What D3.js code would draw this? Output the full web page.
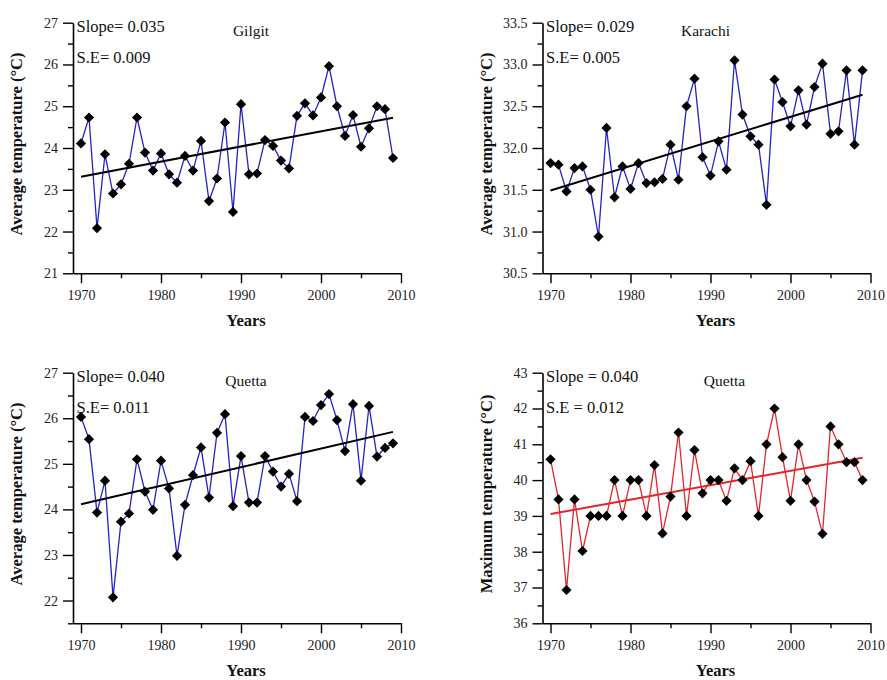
<!DOCTYPE html>
<html>
<head>
<meta charset="utf-8">
<script src="https://cdn.jsdelivr.net/npm/d3@7"></script>
<style>
  body { margin: 0; background: #fff; }
  svg { display: block; font-family: "Liberation Serif", "Times New Roman", serif; }
</style>
</head>
<body>
<svg id="chart" width="887" height="680"></svg>
<script>
var years = d3.range(1970, 2010);

var gilgitAvg = [24.11, 24.73, 22.08, 23.85, 22.91, 23.13, 23.62, 24.73, 23.89, 23.46,
                 23.87, 23.37, 23.17, 23.81, 23.46, 24.17, 22.73, 23.27, 24.61, 22.47,
                 25.05, 23.37, 23.39, 24.19, 24.05, 23.70, 23.51, 24.77, 25.07, 24.78,
                 25.21, 25.96, 25.00, 24.29, 24.79, 24.03, 24.47, 25.00, 24.93, 23.76];

var karachiAvg = [31.82, 31.80, 31.48, 31.76, 31.78, 31.50, 30.94, 32.24, 31.41, 31.78,
                  31.51, 31.82, 31.58, 31.59, 31.63, 32.04, 31.62, 32.50, 32.83, 31.89,
                  31.67, 32.08, 31.74, 33.05, 32.40, 32.14, 32.04, 31.32, 32.82, 32.55,
                  32.26, 32.69, 32.28, 32.73, 33.01, 32.17, 32.20, 32.93, 32.04, 32.93];

var quettaAvg = [26.03, 25.54, 23.93, 24.63, 22.07, 23.73, 23.91, 25.10, 24.39, 23.99,
                 25.07, 24.46, 22.98, 24.10, 24.75, 25.36, 24.26, 25.68, 26.09, 24.07,
                 25.17, 24.15, 24.15, 25.17, 24.83, 24.50, 24.78, 24.18, 26.03, 25.94,
                 26.29, 26.53, 25.96, 25.28, 26.31, 24.63, 26.27, 25.16, 25.35, 25.45];

var quettaMax = [40.58, 39.46, 36.93, 39.46, 38.02, 39.00, 39.00, 39.00, 40.00, 39.00,
                 40.00, 40.00, 39.00, 40.42, 38.51, 39.54, 41.33, 39.00, 40.84, 39.63,
                 40.00, 40.00, 39.42, 40.33, 40.00, 40.53, 39.00, 41.00, 42.00, 40.64,
                 39.42, 41.00, 40.00, 39.40, 38.50, 41.50, 41.00, 40.50, 40.50, 40.00];

var stations = ["Gilgit", "Karachi", "Quetta", "Quetta"];
var slopeLabels = ["Slope= 0.035", "Slope= 0.029", "Slope= 0.040", "Slope = 0.040"];
var seLabels = ["S.E= 0.009", "S.E= 0.005", "S.E= 0.011", "S.E = 0.012"];
var yTitles = ["Average temperature (\u00B0C)", "Average temperature (\u00B0C)",
               "Average temperature (\u00B0C)", "Maximum temperature (\u00B0C)"];
var yDomains = [[21, 27], [30.5, 33.5], [21.5, 27], [36, 43]];
var yMajorSteps = [1, 0.5, 1, 1];
var xTicks = [1970, 1980, 1990, 2000, 2010];
var xMinorTicks = [1975, 1985, 1995, 2005];

var series = [gilgitAvg, karachiAvg, quettaAvg, quettaMax];

// layout of the four panels
var panelW = 328, panelH = 250.6;
var layout = [
  {left: 73, top: 22.7, titleX: 178, line: "#2323c8", trend: "#000"},
  {left: 542.5, top: 22.7, titleX: 163, line: "#2323c8", trend: "#000"},
  {left: 73, top: 372.7, titleX: 173, line: "#2323c8", trend: "#000"},
  {left: 542.5, top: 372.7, titleX: 182, line: "#e3262b", trend: "#e3262b"}
];

var svg = d3.select("#chart");
svg.append("rect").attr("width", 887).attr("height", 680).attr("fill", "#fff");

function linearFit(xs, ys) {
  var mx = d3.mean(xs), my = d3.mean(ys);
  var num = d3.sum(xs, function(x, i) { return (x - mx) * (ys[i] - my); });
  var den = d3.sum(xs, function(x) { return (x - mx) * (x - mx); });
  var b = num / den;
  return {a: my - b * mx, b: b};
}

series.forEach(function(values, i) {
  var L = layout[i];
  var g = svg.append("g").attr("transform", "translate(" + L.left + "," + L.top + ")");

  var x = d3.scaleLinear().domain([1969, 2010]).range([0, panelW]);
  var y = d3.scaleLinear().domain(yDomains[i]).range([panelH, 0]);

  var step = yMajorSteps[i];
  var d0 = yDomains[i][0], d1 = yDomains[i][1];
  var major = d3.range(Math.round(d0 / step) , Math.round(d1 / step) + 1)
      .map(function(k) { return k * step; })
      .filter(function(v) { return v >= d0 - 1e-9 && v <= d1 + 1e-9; });
  var minor = d3.range(Math.round(d0 / (step / 2)), Math.round(d1 / (step / 2)) + 1)
      .map(function(k) { return k * step / 2; })
      .filter(function(v) { return !major.some(function(m) { return Math.abs(m - v) < 1e-9; }); });

  var fmt = step < 1 ? d3.format(".1f") : d3.format("d");

  // y axis
  var yAxis = g.append("g").call(d3.axisLeft(y).tickValues(major).tickFormat(fmt)
      .tickSize(10).tickPadding(5).tickSizeOuter(0));
  yAxis.append("g").call(d3.axisLeft(y).tickValues(minor).tickFormat("").tickSize(5).tickSizeOuter(0))
      .select(".domain").remove();

  // x axis
  var xAxis = g.append("g").attr("transform", "translate(0," + panelH + ")")
      .call(d3.axisBottom(x).tickValues(xTicks).tickFormat(d3.format("d"))
        .tickSize(10).tickPadding(7).tickSizeOuter(0));
  xAxis.append("g").call(d3.axisBottom(x).tickValues(xMinorTicks).tickFormat("").tickSize(5).tickSizeOuter(0))
      .select(".domain").remove();

  g.selectAll(".domain").attr("stroke", "#000").attr("stroke-width", 1.6);
  g.selectAll(".tick line").attr("stroke", "#000").attr("stroke-width", 1.4);
  g.selectAll(".tick text").attr("font-family", "Liberation Serif").attr("font-size", 14).attr("fill", "#222");

  // series line
  var line = d3.line()
      .x(function(d, j) { return x(years[j]); })
      .y(function(d) { return y(d); });
  g.append("path").datum(values)
      .attr("fill", "none").attr("stroke", L.line).attr("stroke-width", 1.3)
      .attr("d", line);

  // trend line
  var fit = linearFit(years, values);
  var ends = [years[0], years[years.length - 1]];
  g.append("line")
      .attr("x1", x(ends[0])).attr("y1", y(fit.a + fit.b * ends[0]))
      .attr("x2", x(ends[1])).attr("y2", y(fit.a + fit.b * ends[1]))
      .attr("stroke", L.trend).attr("stroke-width", 2);

  // diamond markers
  var sym = d3.symbol().type(d3.symbolSquare).size(52);
  g.selectAll(".pt").data(values).enter().append("path")
      .attr("class", "pt")
      .attr("d", sym)
      .attr("transform", function(d, j) { return "translate(" + x(years[j]) + "," + y(d) + ") rotate(45)"; })
      .attr("fill", "#000");

  // annotations
  g.append("text").attr("x", 3.5).attr("y", 9.5)
      .attr("font-size", 16.5).attr("fill", "#111").text(slopeLabels[i]);
  g.append("text").attr("x", 3.5).attr("y", 40)
      .attr("font-size", 16.5).attr("fill", "#111").text(seLabels[i]);
  g.append("text").attr("x", L.titleX).attr("y", 13.5)
      .attr("text-anchor", "middle").attr("font-size", 15.5).attr("fill", "#111")
      .text(stations[i]);

  // axis titles
  g.append("text")
      .attr("transform", "translate(-51," + (panelH / 2 - 4) + ") rotate(-90)")
      .attr("text-anchor", "middle").attr("font-weight", "bold").attr("font-size", 16.5)
      .attr("fill", "#111").text(yTitles[i]);
  g.append("text").attr("x", x(1990) + 5).attr("y", panelH + 53)
      .attr("text-anchor", "middle").attr("font-weight", "bold").attr("font-size", 16.5)
      .attr("fill", "#111").text("Years");
});
</script>
</body>
</html>
